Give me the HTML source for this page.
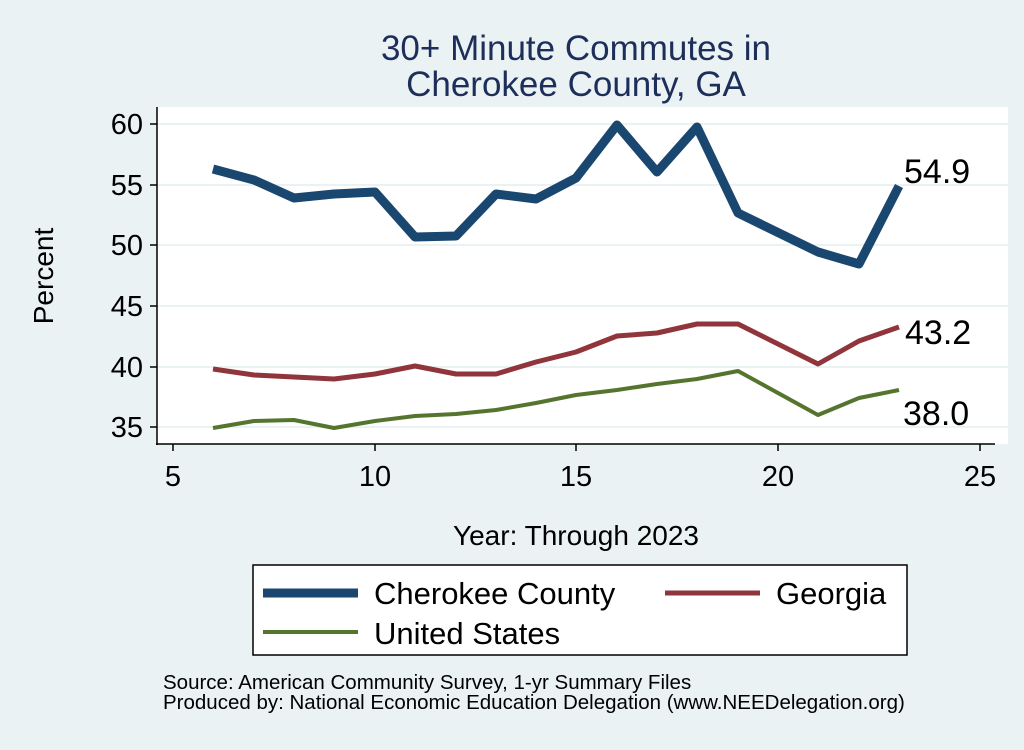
<!DOCTYPE html><html><head><style>body{margin:0;background:#eaf2f3}</style></head><body>
<svg width="1024" height="745" xmlns="http://www.w3.org/2000/svg" font-family="Liberation Sans, sans-serif">
<rect width="1024" height="745" fill="#eaf2f3"/>
<rect x="157" y="107" width="851" height="337" fill="#fff"/>
<g stroke="#eaf2f3" stroke-width="2">
<line x1="157" x2="1008" y1="124" y2="124"/><line x1="157" x2="1008" y1="185" y2="185"/><line x1="157" x2="1008" y1="245" y2="245"/><line x1="157" x2="1008" y1="306" y2="306"/><line x1="157" x2="1008" y1="367" y2="367"/><line x1="157" x2="1008" y1="427" y2="427"/></g>
<g stroke="#000" stroke-width="1.5"><line x1="157" y1="107" x2="157" y2="445"/><line x1="156" y1="444" x2="995" y2="444"/>
<line x1="150" x2="157" y1="124" y2="124"/><line x1="150" x2="157" y1="185" y2="185"/><line x1="150" x2="157" y1="245" y2="245"/><line x1="150" x2="157" y1="306" y2="306"/><line x1="150" x2="157" y1="367" y2="367"/><line x1="150" x2="157" y1="427" y2="427"/>
<line x1="173" x2="173" y1="444" y2="451"/><line x1="375" x2="375" y1="444" y2="451"/><line x1="576" x2="576" y1="444" y2="451"/><line x1="778" x2="778" y1="444" y2="451"/><line x1="980" x2="980" y1="444" y2="451"/></g>
<g font-size="29" text-anchor="end"><text x="143" y="134">60</text><text x="143" y="195">55</text><text x="143" y="255">50</text><text x="143" y="316">45</text><text x="143" y="377">40</text><text x="143" y="437">35</text></g>
<g font-size="29" text-anchor="middle"><text x="173" y="486">5</text><text x="375" y="486">10</text><text x="576" y="486">15</text><text x="778" y="486">20</text><text x="980" y="486">25</text></g>
<text x="576" y="545" font-size="28" text-anchor="middle">Year: Through 2023</text>
<text transform="translate(53,276) rotate(-90)" font-size="28" text-anchor="middle">Percent</text>
<text x="576" y="60" font-size="35" fill="#1e2e5a" text-anchor="middle">30+ Minute Commutes in</text>
<text x="576" y="96" font-size="35" fill="#1e2e5a" text-anchor="middle">Cherokee County, GA</text>
<g fill="none" stroke-linejoin="round">
<polyline stroke="#1a476f" stroke-width="9" points="213,169 254,180 294,198 334,194 375,192 415,237 456,236 496,194 536,199 576,178 617,125 657,172 697,127 738,213 818,252 859,264 899,186"/>
<polyline stroke="#90353b" stroke-width="5" points="213,369 254,375 294,377 334,379 375,374 415,366 456,374 496,374 536,362 576,352 617,336 657,333 697,324 738,324 818,364 859,341 899,327"/>
<polyline stroke="#55752f" stroke-width="4" points="213,428 254,421 294,420 334,428 375,421 415,416 456,414 496,410 536,403 576,395 617,390 657,384 697,379 738,371 818,415 859,398 899,390"/>
</g>
<g font-size="34"><text x="904" y="183">54.9</text><text x="905" y="344">43.2</text><text x="903" y="425">38.0</text></g>
<rect x="253" y="565" width="654" height="90" fill="#fff" stroke="#000" stroke-width="1.5"/>
<line x1="263" x2="358" y1="593" y2="593" stroke="#1a476f" stroke-width="9"/>
<line x1="665" x2="760" y1="593" y2="593" stroke="#90353b" stroke-width="5"/>
<line x1="263" x2="358" y1="632" y2="632" stroke="#55752f" stroke-width="4"/>
<g font-size="31"><text x="374" y="604">Cherokee County</text><text x="776" y="604">Georgia</text><text x="374" y="644">United States</text></g>
<g font-size="20.5"><text x="163" y="689">Source: American Community Survey, 1-yr Summary Files</text><text x="163" y="709">Produced by: National Economic Education Delegation (www.NEEDelegation.org)</text></g>
</svg></body></html>
